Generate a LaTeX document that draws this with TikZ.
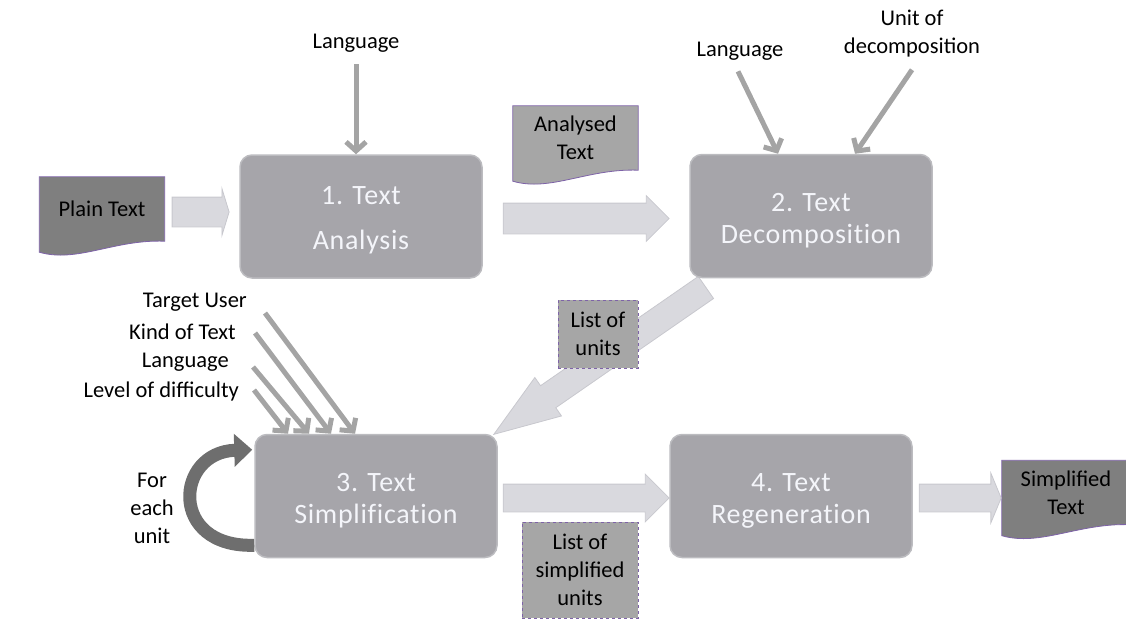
\documentclass[tikz,border=0pt]{standalone}
\usepackage{fontspec}
\setmainfont{Carlito}
\newfontfamily\stepfont[LetterSpace=2.5, Ligatures=NoCommon]{Carlito}
\usepackage{tikz}
\usetikzlibrary{shapes.arrows,arrows.meta,calc,backgrounds}
\definecolor{boxgray}{HTML}{A6A5AA}
\definecolor{boxedge}{HTML}{BCBCC0}
\definecolor{boxtext}{HTML}{F4F5FA}
\definecolor{docdark}{HTML}{7F7F7F}
\definecolor{doclight}{HTML}{A6A6A6}
\definecolor{docedge}{HTML}{7E63A8}
\definecolor{fatfill}{HTML}{D9D9DE}
\definecolor{fatedge}{HTML}{C8C8CE}
\definecolor{thingray}{HTML}{A4A4A4}
\definecolor{loopgray}{HTML}{6E6E6E}

\tikzset{
    stepbox/.style={draw=boxedge, line width=1.5pt, fill=boxgray, rounded corners=12pt,
        minimum width=242pt, minimum height=123pt, align=center, text=boxtext,
        font=\stepfont\fontsize{28}{32}\selectfont,
        text height=61.5pt, text depth=5.6pt},
    doc/.style={minimum width=125pt, minimum height=64pt, inner sep=0pt, align=center,
        font=\fontsize{22.5}{28}\selectfont},
    listbox/.style={draw=docedge, dashed, line width=0.8pt, fill=doclight, inner sep=0pt,
        align=center, font=\fontsize{22.5}{28}\selectfont},
    infolabel/.style={font=\fontsize{22.5}{28}\selectfont, inner sep=0pt, align=center},
    fatarrow/.style={single arrow, fill=fatfill, draw=fatedge, line width=0.8pt, inner sep=0pt},
    thinarrow/.style={draw=thingray, line width=5pt, -{Straight Barb[length=9pt,width=20pt]}},
}

\newcommand{\docshape}[2]{
    % Draw a page with a wavy lower edge behind node #1
    \draw[docedge, line width=0.8pt, fill=#2]
        (#1.north west) -- (#1.north east) -- (#1.south east)
        .. controls ($(#1.south east)!0.4!(#1.south west)+(0,-2)$)
        and ($(#1.south west)!0.3!(#1.south east)+(0,22)$)
        .. ($(#1.south west)+(0,11)$) -- cycle;
}

\begin{document}
\begin{tikzpicture}[x=1pt, y=-1pt]
    \useasboundingbox (0,0) rectangle (1126,621);

    % The four steps
    \node[stepbox, text height=71.7pt] (box1) at (361,216.5) {1. Text\\[13pt]Analysis};
    \node[stepbox] (box2) at (811,216) {2. Text\\Decomposition};
    \node[stepbox] (box3) at (376,496) {3. Text\\Simplification};
    \node[stepbox] (box4) at (791,496) {4. Text\\Regeneration};

    % Documents
    \node[doc] (plain) at (102,209) {Plain Text};
    \node[doc] (analysed) at (575.5,138) {Analysed\\Text};
    \node[doc, minimum width=128pt] (simplified) at (1066,492.5) {Simplified\\Text};
    \node[listbox, minimum width=80pt, minimum height=68pt] (units) at (598,334) {List of\\units};
    \node[listbox, minimum width=116pt, minimum height=96pt] (simpunits) at (580,570) {List of\\simplified\\units};

    \begin{scope}[on background layer]
        \docshape{plain}{docdark}
        \docshape{analysed}{doclight}
        \docshape{simplified}{docdark}

        % Block arrows from step to step
        \node[fatarrow, single arrow head extend=8.5pt, single arrow tip angle=146,
            minimum height=57pt, anchor=tail] (toanalysis) at ($(plain.east)+(7,3)$) {\rule{0pt}{29pt}};
        \node[fatarrow, single arrow head extend=7.5pt, single arrow tip angle=90,
            minimum height=166pt, anchor=tail] (todecomp) at ($(box1.east)+(20,2)$) {\rule{0pt}{30pt}};
        \node[fatarrow, single arrow head extend=10pt, single arrow tip angle=39,
            minimum height=258pt, rotate=214.7, anchor=tail] (tosimp) at ($(box2.south west)+(17,9)$) {\rule{0pt}{26pt}};
        \node[fatarrow, single arrow head extend=10pt, single arrow tip angle=90,
            minimum height=166pt, anchor=tail] (toregen) at ($(box3.east)+(5,2)$) {\rule{0pt}{27pt}};
        \node[fatarrow, single arrow head extend=11pt, single arrow tip angle=135,
            minimum height=82pt, anchor=tail] (tooutput) at ($(box4.east)+(6,2)$) {\rule{0pt}{27pt}};
    \end{scope}

    % Inputs of step 1 and step 2
    \node[infolabel] (lang1) at (356,43) {Language};
    \draw[thinarrow] ($(lang1.south)+(0,12)$) -- (lang1.south |- box1.north);
    \node[infolabel] (lang2) at (740,51) {Language};
    \draw[thinarrow] ($(lang2.south)+(-2,11)$) -- ([xshift=-33]box2.north);
    \node[infolabel] (unit) at (912,34) {Unit of\\decomposition};
    \draw[thinarrow] ($(unit.south)+(0,12)$) -- ([xshift=44]box2.north);

    % Inputs of step 3
    \node[infolabel, anchor=east] (target) at (247,302) {Target User};
    \node[infolabel, anchor=east] (kind) at (236,332) {Kind of Text};
    \node[infolabel, anchor=east] (lang3) at (229,362) {Language};
    \node[infolabel, anchor=east] (level) at (239,391) {Level of difficulty};
    \draw[thinarrow] ($(target.east)+(18,11)$) -- ([xshift=-21]box3.north);
    \draw[thinarrow] ($(kind.east)+(19,1)$) -- ([xshift=-45]box3.north);
    \draw[thinarrow] ($(lang3.east)+(24,5)$) -- ([xshift=-67]box3.north);
    \draw[thinarrow] ($(level.east)+(15,-1)$) -- ([xshift=-88]box3.north);

    % Loop over the units
    \node[infolabel] (foreach) at (152,508) {For\\each\\unit};
    \draw[loopgray, line width=13pt, -{Triangle[length=18pt,width=32pt]}]
        ($(box3.south west)+(0,-13)$) .. controls (168,548) and (175,452)
        .. ($(box3.north west)+(-2,16)$);
\end{tikzpicture}
\end{document}
